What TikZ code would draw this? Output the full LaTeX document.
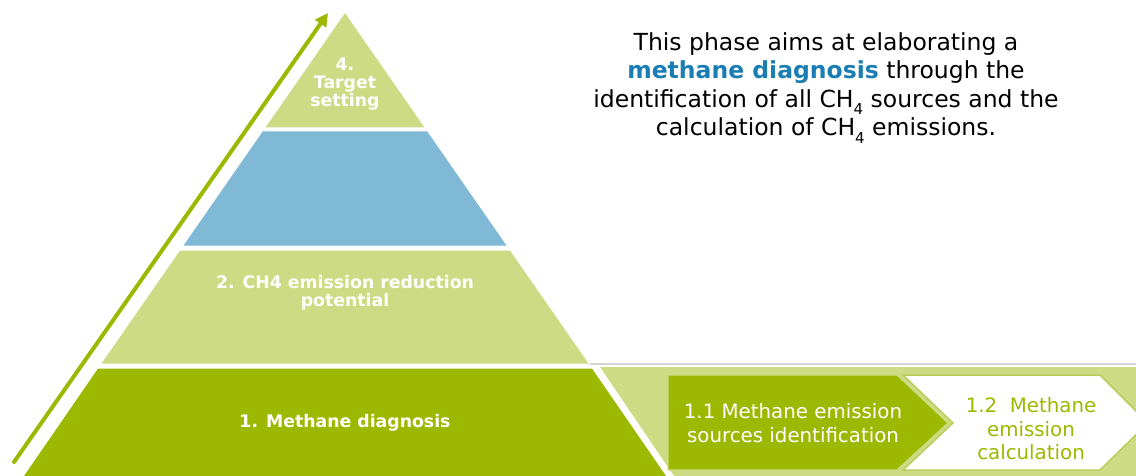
\documentclass[tikz,border=0pt]{standalone}
\usepackage{fontspec}
\setmainfont{DejaVu Sans}
\usetikzlibrary{arrows.meta}
\definecolor{dkgreen}{HTML}{9DB800}
\definecolor{ltgreen}{HTML}{CDDB85}
\definecolor{pblue}{HTML}{80B9D5}
\definecolor{tblue}{HTML}{1A7DB3}
\definecolor{chevborder}{HTML}{B8CE5A}
\definecolor{greyline}{HTML}{D4D4D4}
\newcommand{\subfour}{\raisebox{-0.6ex}{\fontsize{15}{15}\selectfont 4}}
\tikzset{
  layer/.style={draw=white, line width=1pt},
  pyrlabel/.style={text=white, font=\bfseries\fontsize{17.3}{18}\selectfont, align=center, inner sep=0pt},
  chevlabel/.style={font=\fontsize{19.8}{23.5}\selectfont, align=center, inner sep=0pt},
  desclabel/.style={font=\fontsize{23.5}{28.5}\selectfont, align=center, inner sep=0pt}
}
\begin{document}
\begin{tikzpicture}[x=1pt,y=-1pt]
\useasboundingbox (0,0) rectangle (1136,476);
\begin{scope}
\clip (0,0) rectangle (1136,476);
% grey line
\draw[greyline, line width=1.2pt] (588,364) -- (1136,364);
% band
\fill[ltgreen] (600,367) -- (1136,367) -- (1136,476) -- (674,476) -- cycle;
% pyramid layers
\filldraw[layer, fill=ltgreen] (345,12) -- (425.6,128) -- (264.4,128) -- cycle;
\filldraw[layer, fill=pblue] (262.3,131) -- (427.7,131) -- (507.6,246) -- (182.4,246) -- cycle;
\filldraw[layer, fill=ltgreen] (179.6,250) -- (510.4,250) -- (589.6,364) -- (100.4,364) -- cycle;
\filldraw[layer, fill=dkgreen] (97.6,368) -- (592.4,368) -- (667.5,477) -- (22.5,477) -- cycle;
% chevrons
\filldraw[fill=dkgreen, draw=ltgreen, line width=1.2pt] (668,375) -- (897,375) -- (948,423) -- (897,470) -- (668,470) -- cycle;
\filldraw[fill=white, draw=chevborder, line width=1.5pt] (903,375) -- (1100,375) -- (1148,423) -- (1100,470) -- (903,470) -- (953,423) -- cycle;
\end{scope}
% arrow
\coordinate (arrS) at (14,462);
\coordinate (arrE) at (328,13);
\draw[dkgreen, line width=4pt, line cap=round, -{Triangle[length=13pt,width=13pt]}] (arrS) -- (arrE);
% labels
\node[pyrlabel] (t4) at (345,84) {4.\\Target\\setting};
\node[pyrlabel] (t2) at (345,293) {2. CH4 emission reduction\\potential};
\node[pyrlabel] (t1) at (345,423) {1. Methane diagnosis};
\node[chevlabel, text=white] (c1) at (793,423) {1.1 Methane emission\\sources identification};
\node[chevlabel, text=dkgreen] (c2) at (1031,429) {1.2~ Methane\\emission\\calculation};
\node[desclabel, anchor=north] (desc) at (826,32) {This phase aims at elaborating a\\{\bfseries\color{tblue}methane diagnosis} through the\\identification of all CH\subfour{} sources and the\\calculation of CH\subfour{} emissions.};
\end{tikzpicture}
\end{document}
